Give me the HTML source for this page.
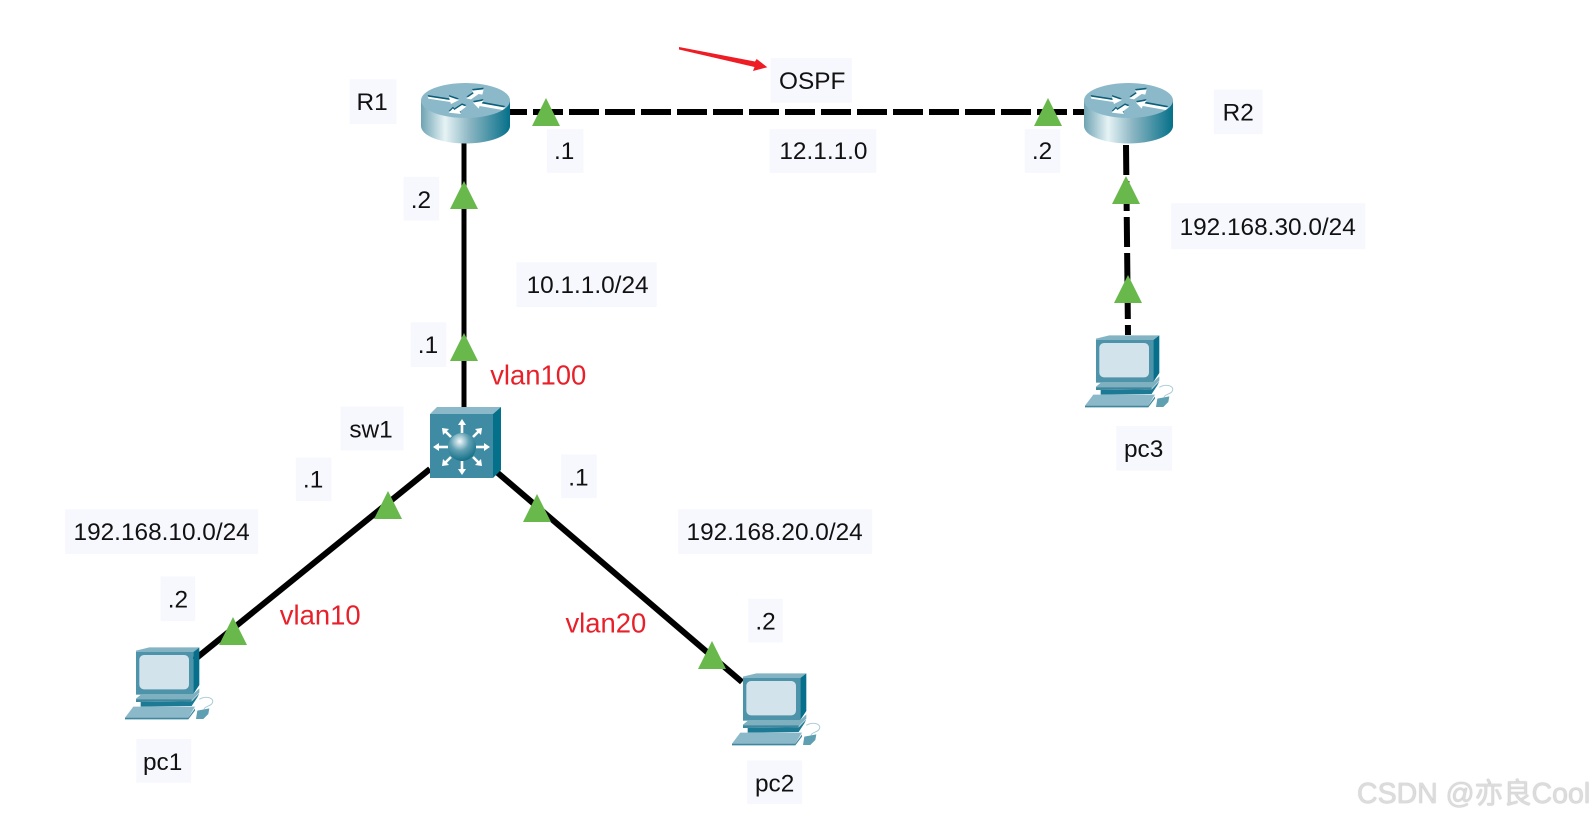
<!DOCTYPE html>
<html><head><meta charset="utf-8">
<style>
html,body{margin:0;padding:0;background:#fff;width:1594px;height:821px;overflow:hidden}
svg{position:absolute;left:0;top:0}
text{font-family:"Liberation Sans",sans-serif}
.l{font-size:24px;fill:#111;text-anchor:middle;dominant-baseline:central;transform:translateY(1px)}
.r{font-size:27px;fill:#e8202a;text-anchor:middle;dominant-baseline:central}
.wm{position:absolute;left:1357px;top:776px;font:28.5px/36px "Liberation Sans","Noto Sans CJK SC",sans-serif;color:#dcdcdc;text-shadow:0 0 1px #999;white-space:nowrap}
</style></head><body>
<svg width="1594" height="821" viewBox="0 0 1594 821" xmlns="http://www.w3.org/2000/svg">
<defs>
<linearGradient id="g" x1="0" x2="1" y1="0" y2="0">
<stop offset="0" stop-color="#6ea3b3"/><stop offset=".27" stop-color="#e6f3f5"/><stop offset=".55" stop-color="#8ab5c2"/><stop offset="1" stop-color="#05708a"/>
</linearGradient>
<radialGradient id="b" cx=".42" cy=".3" r=".75">
<stop offset="0" stop-color="#f4fafb"/><stop offset=".45" stop-color="#5f9fb2"/><stop offset="1" stop-color="#0a6a83"/>
</radialGradient>
<g id="arw">
<polygon points="272,80 338,90 336,80 366,90 342,102 340,96 274,86"/>
<polygon points="388,85 410,70 405,62 440,58 436,74 425,72 402,88"/>
<polygon points="408,98 440,92 434,100 505,113 497,120 428,108 425,116"/>
<polygon points="335,128 372,132 368,125 388,110 375,105 352,120 348,115"/>
</g>
<g id="router">
<path d="M21 40.5V66A44.5 17.5 0 0 0 110 66V40.5Z" fill="url(#g)"/>
<ellipse cx="65.5" cy="40.5" rx="44.5" ry="17.5" fill="#8cb9c9"/>
<g transform="translate(-63 10) scale(.3333)">
<use href="#arw" y="-5" fill="#0b5f78"/>
<use href="#arw" fill="#fff"/>
</g>
</g>
<g id="pc"><g transform="scale(.3333)">
<rect x="78" y="92" width="172" height="132" fill="#4d93a9"/>
<polygon points="78,92 118,82 268,82 250,96 78,96" fill="#84b4c4"/>
<polygon points="250,96 268,82 268,195 250,222" fill="#066f8b"/>
<rect x="88" y="105" width="149" height="103" rx="14" fill="#d3e3eb"/>
<polygon points="78,236 95,222 250,222 268,205 268,218 245,242 78,246" fill="#7fb0c0"/>
<polygon points="78,238 245,238 245,244 78,246" fill="#3f879e"/>
<polygon points="92,246 245,244 268,220 262,232 245,258 92,260" fill="#1d7a94"/>
<polygon points="45,293 70,260 255,260 235,293" fill="#8cb9c9"/>
<polygon points="45,293 235,293 255,265 255,272 235,298 45,298" fill="#3f879e"/>
<polygon points="258,297 262,272 298,265 295,282 280,297" fill="#5f9fb2"/>
<path d="M268 238 C290 225 318 235 305 252 C298 260 285 258 282 268" fill="none" stroke="#a9cbd6" stroke-width="3"/>
</g></g>
<g id="t"><path d="M0 -14 L14 14 L-14 14Z" fill="#68b84c"/></g>
</defs>
<rect width="1594" height="821" fill="#fff"/>

<!-- links -->
<g stroke="#000" fill="none">
<line x1="497" y1="112" x2="1090" y2="112" stroke-width="6" stroke-dasharray="30 6"/>
<line x1="464" y1="140" x2="464" y2="412" stroke-width="5"/>
<line x1="430" y1="469" x2="194" y2="660" stroke-width="6"/>
<line x1="492" y1="468" x2="742" y2="682" stroke-width="6"/>
<line x1="1126" y1="145" x2="1128" y2="335" stroke-width="6" stroke-dasharray="30 6"/>
</g>

<!-- red arrow -->
<polygon points="679,47 755,61.5 756.7,59 767.3,67.3 753,71 754.5,67 679,49.5" fill="#ee1c25"/>

<!-- devices -->
<use href="#router" x="400" y="60"/>
<use href="#router" x="1063" y="60"/>

<g>
<path d="M430 414 L437 407 L501 407 L493 414Z" fill="#8cb9c9"/>
<path d="M493 414 L501 407 L501 470 L493 478Z" fill="#05708a"/>
<rect x="430" y="414" width="63" height="64" fill="#3f8ba3"/>
<g stroke="#fff" stroke-width="2.6" fill="#fff">
<line x1="462" y1="433" x2="462" y2="424"/><path d="M462 419 L466 425 H458Z" stroke="none"/>
<line x1="462" y1="461" x2="462" y2="470"/><path d="M462 475 L466 469 H458Z" stroke="none"/>
<line x1="448" y1="447" x2="438" y2="447"/><path d="M433 447 L439 443 V451Z" stroke="none"/>
<line x1="476" y1="447" x2="485" y2="447"/><path d="M490 447 L484 443 V451Z" stroke="none"/>
<line x1="451" y1="437" x2="445" y2="431"/><path d="M442 428 L449 429 L443 435Z" stroke="none"/>
<line x1="473" y1="437" x2="479" y2="431"/><path d="M482 428 L475 429 L481 435Z" stroke="none"/>
<line x1="451" y1="457" x2="445" y2="463"/><path d="M442 466 L449 465 L443 459Z" stroke="none"/>
<line x1="473" y1="457" x2="479" y2="463"/><path d="M482 466 L475 465 L481 459Z" stroke="none"/>
</g>
<circle cx="462" cy="447" r="14" fill="url(#b)"/>
</g>

<use href="#pc" x="110" y="620"/>
<use href="#pc" x="717" y="646"/>
<use href="#pc" x="1070" y="308"/>

<!-- triangles -->
<use href="#t" x="546" y="112"/>
<use href="#t" x="1048" y="112"/>
<use href="#t" x="464" y="195"/>
<use href="#t" x="464" y="347"/>
<use href="#t" x="388" y="505"/>
<use href="#t" x="233" y="631"/>
<use href="#t" x="537" y="508"/>
<use href="#t" x="712" y="655"/>
<use href="#t" x="1126" y="190"/>
<use href="#t" x="1128" y="289"/>

<!-- labels -->
<g transform="scale(1.01658)">
<g fill="#f7f8fd">
<rect x="344" y="78" width="46" height="44"/>
<rect x="1194" y="88" width="48" height="44"/>
<rect x="758" y="57" width="80" height="44"/>
<rect x="538" y="127" width="36" height="43"/>
<rect x="757" y="127" width="105" height="43"/>
<rect x="1008" y="127" width="35" height="43"/>
<rect x="397" y="174" width="35" height="43"/>
<rect x="508" y="258" width="138" height="44"/>
<rect x="404" y="317" width="35" height="44"/>
<rect x="335" y="400" width="62" height="43"/>
<rect x="291" y="450" width="35" height="43"/>
<rect x="64" y="501" width="190" height="44"/>
<rect x="158" y="567" width="34" height="44"/>
<rect x="134" y="727" width="54" height="43"/>
<rect x="552" y="447" width="35" height="43"/>
<rect x="667" y="501" width="191" height="44"/>
<rect x="736" y="589" width="34" height="43"/>
<rect x="735" y="748" width="54" height="43"/>
<rect x="1152" y="200" width="191" height="45"/>
<rect x="1098" y="419" width="55" height="44"/>
</g>
<text class="l" x="366" y="100">R1</text>
<text class="l" x="1218" y="110">R2</text>
<text class="l" x="799" y="79">OSPF</text>
<text class="l" x="555" y="148">.1</text>
<text class="l" x="810" y="148">12.1.1.0</text>
<text class="l" x="1025" y="148">.2</text>
<text class="l" x="414" y="196">.2</text>
<text class="l" x="578" y="280">10.1.1.0/24</text>
<text class="l" x="421" y="339">.1</text>
<text class="l" x="365" y="422">sw1</text>
<text class="l" x="308" y="471">.1</text>
<text class="l" x="159" y="523">192.168.10.0/24</text>
<text class="l" x="175" y="589">.2</text>
<text class="l" x="160" y="749">pc1</text>
<text class="l" x="569" y="469">.1</text>
<text class="l" x="762" y="523">192.168.20.0/24</text>
<text class="l" x="753" y="611">.2</text>
<text class="l" x="762" y="770">pc2</text>
<text class="l" x="1247" y="223">192.168.30.0/24</text>
<text class="l" x="1125" y="441">pc3</text>
<text class="r" x="529.5" y="369">vlan100</text>
<text class="r" x="315" y="605">vlan10</text>
<text class="r" x="596" y="613">vlan20</text>
</g>
</svg>
<div class="wm">CSDN @亦良Cool</div>
</body></html>
